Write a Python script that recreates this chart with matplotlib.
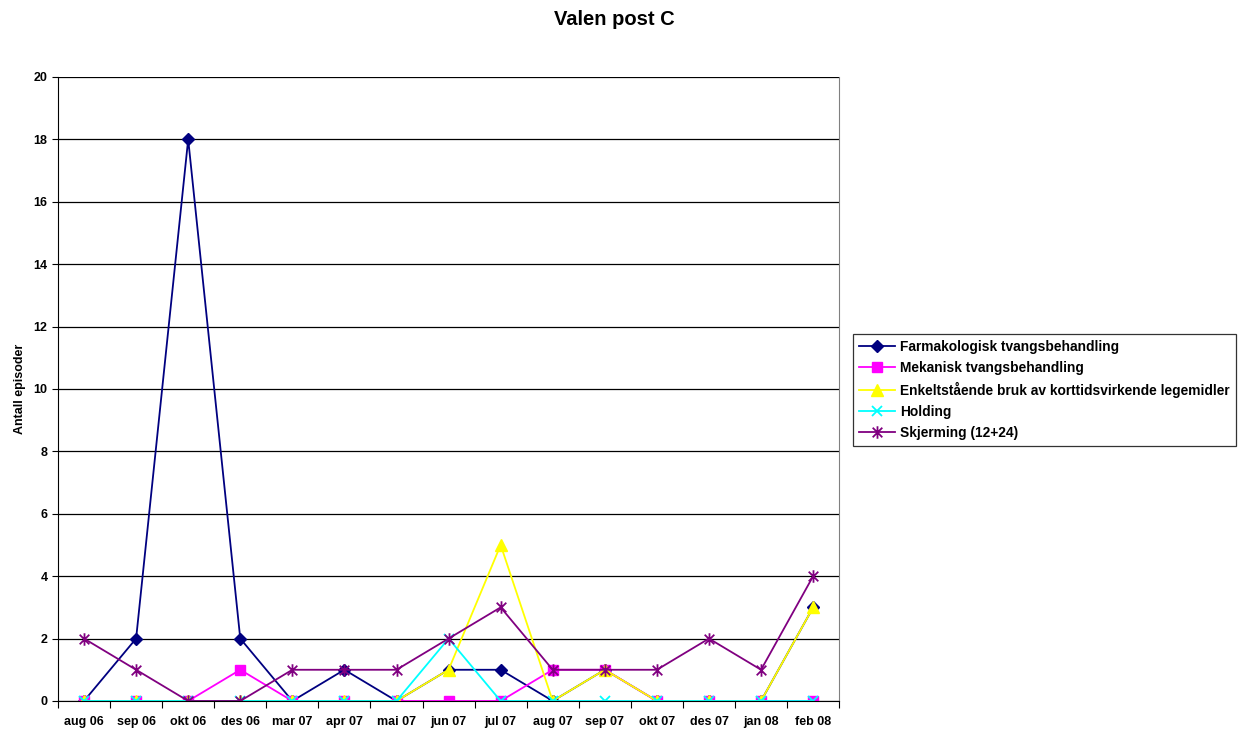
import matplotlib
matplotlib.use("Agg")
import matplotlib.pyplot as plt
from matplotlib.path import Path
from matplotlib.ticker import FixedLocator, NullFormatter

plt.rcParams['font.family'] = ['Liberation Sans', 'DejaVu Sans']

months = ["aug 06", "sep 06", "okt 06", "des 06", "mar 07", "apr 07", "mai 07",
          "jun 07", "jul 07", "aug 07", "sep 07", "okt 07", "des 07", "jan 08", "feb 08"]

farmakologisk = [0, 2, 18, 2, 0, 1, 0, 1, 1, 0, 1, 0, 0, 0, 3]
mekanisk = [0, 0, 0, 1, 0, 0, 0, 0, 0, 1, 1, 0, 0, 0, 0]
enkeltstaaende = [0, 0, 0, 0, 0, 0, 0, 1, 5, 0, 1, 0, 0, 0, 3]
holding = [0, 0, 0, 0, 0, 0, 0, 2, 0, 0, 0, 0, 0, 0, 0]
skjerming = [2, 1, 0, 0, 1, 1, 1, 2, 3, 1, 1, 1, 2, 1, 4]

labels = ["Farmakologisk tvangsbehandling",
          "Mekanisk tvangsbehandling",
          "Enkeltstående bruk av korttidsvirkende legemidler",
          "Holding",
          "Skjerming (12+24)"]

# star marker: an x with a vertical bar through it
star = Path([(-1, -1), (1, 1), (-1, 1), (1, -1), (0, -1.3), (0, 1.3)],
            [Path.MOVETO, Path.LINETO, Path.MOVETO, Path.LINETO, Path.MOVETO, Path.LINETO])

fig = plt.figure(figsize=(12.39, 7.33), dpi=100)
ax = fig.add_axes([0.0468, 0.0437, 0.6305, 0.8513])

x = list(range(len(months)))
styles = [
    dict(color="#000080", marker="D", markersize=6, markerfacecolor="#000080"),
    dict(color="#FF00FF", marker="s", markersize=7, markerfacecolor="#FF00FF"),
    dict(color="#FFFF00", marker="^", markersize=8, markerfacecolor="#FFFF00"),
    dict(color="#00FFFF", marker="x", markersize=7, markeredgewidth=1.3),
    dict(color="#800080", marker=star, markersize=9, markeredgewidth=1.3),
]
series = [farmakologisk, mekanisk, enkeltstaaende, holding, skjerming]
for vals, lab, st in zip(series, labels, styles):
    ax.plot(x, vals, label=lab, linewidth=1.3, **st)

ax.set_xlim(-0.5, len(months) - 0.5)
ax.set_ylim(0, 20)
ax.set_yticks(range(0, 21, 2))
ax.yaxis.grid(True, color="#000000", linewidth=0.9)
ax.set_axisbelow(True)

ax.set_xticks(x)
ax.set_xticklabels(months, fontsize=9, fontweight="bold")
ax.tick_params(axis="x", which="major", length=0, pad=11)
ax.xaxis.set_minor_locator(FixedLocator([i + 0.5 for i in range(-1, len(months))]))
ax.xaxis.set_minor_formatter(NullFormatter())
ax.tick_params(axis="x", which="minor", length=5, direction="out", width=0.8)
ax.tick_params(axis="y", length=4, width=0.8, labelsize=9)
for t in ax.get_yticklabels():
    t.set_fontweight("bold")

ax.spines["top"].set_visible(False)
ax.spines["right"].set_color("#808080")
ax.spines["left"].set_color("#000000")
ax.spines["bottom"].set_color("#000000")

ax.set_ylabel("Antall episoder", fontsize=9, fontweight="bold", labelpad=5)
fig.text(0.496, 0.974, "Valen post C", ha="center", va="center",
         fontsize=14.5, fontweight="bold")

leg = fig.legend(loc="upper left", bbox_to_anchor=(0.6885, 0.5445),
                 frameon=True, fancybox=False, edgecolor="#000000",
                 prop=dict(size=9.9, weight="bold"), handlelength=2.6,
                 handletextpad=0.4, labelspacing=0.5, borderpad=0.45,
                 borderaxespad=0)
leg.get_frame().set_linewidth(0.9)

fig.savefig("out.png", dpi=100)
